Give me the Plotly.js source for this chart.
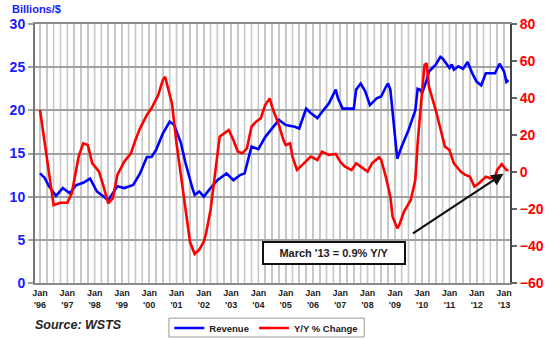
<!DOCTYPE html>
<html><head><meta charset="utf-8">
<script src="https://cdn.plot.ly/plotly-3.0.1.min.js"></script>
<style>html,body{margin:0;padding:0;background:#fff}#chart{width:550px;height:339px}</style>
</head><body><div id="chart"></div>
<script>
// Revenue (Billions $)
const revDates = ['1996-01','1996-03','1996-05','1996-08','1996-11','1997-02','1997-05','1997-08','1997-11','1998-02','1998-06','1998-07','1998-11','1999-02','1999-06','1999-09','1999-12','2000-02','2000-04','2000-07','2000-10','2000-12','2001-03','2001-05','2001-08','2001-09','2001-11','2002-01','2002-04','2002-07','2002-11','2003-02','2003-05','2003-07','2003-10','2004-01','2004-04','2004-07','2004-10','2005-01','2005-05','2005-07','2005-10','2005-12','2006-03','2006-05','2006-08','2006-11','2006-12','2007-02','2007-05','2007-07','2007-08','2007-10','2007-12','2008-02','2008-05','2008-07','2008-09','2008-10','2008-11','2008-12','2009-02','2009-04','2009-07','2009-10','2009-11','2009-12','2010-01','2010-03','2010-04','2010-07','2010-09','2010-10','2011-01','2011-02','2011-03','2011-05','2011-07','2011-09','2011-11','2012-01','2012-03','2012-05','2012-07','2012-09','2012-11','2013-01','2013-02','2013-03'];
const revenue = [12.7,12.2,11.2,10.1,11.0,10.4,11.35,11.6,12.1,10.6,9.8,9.6,11.2,11.0,11.35,12.7,14.6,14.6,15.4,17.3,18.7,18.3,16.2,13.9,11.0,10.2,10.6,10.0,11.0,11.9,12.7,11.9,12.5,12.7,15.8,15.5,16.9,17.9,18.9,18.3,18.1,17.9,20.2,19.7,19.1,19.8,20.8,22.4,21.4,20.2,20.2,20.2,22.4,23.1,22.2,20.6,21.4,21.6,22.7,23.1,22.4,19.7,14.4,15.8,17.7,20.0,22.5,22.4,22.0,23.5,24.5,25.3,26.2,26.0,24.9,25.3,24.7,25.1,24.8,25.6,24.3,23.3,22.9,24.3,24.3,24.3,25.4,24.5,23.3,23.5];

// Y/Y % change
const yoyDates = ['1996-01','1996-04','1996-07','1996-10','1997-01','1997-03','1997-06','1997-08','1997-10','1997-12','1998-03','1998-05','1998-07','1998-09','1998-11','1999-02','1999-05','1999-07','1999-09','1999-12','2000-02','2000-05','2000-07','2000-08','2000-09','2000-11','2001-01','2001-03','2001-05','2001-07','2001-09','2001-11','2002-01','2002-02','2002-04','2002-06','2002-08','2002-10','2002-12','2003-02','2003-04','2003-06','2003-08','2003-10','2003-12','2004-02','2004-04','2004-06','2004-07','2004-10','2004-12','2005-01','2005-03','2005-04','2005-06','2005-09','2005-12','2006-03','2006-05','2006-08','2006-11','2007-01','2007-03','2007-06','2007-08','2007-10','2008-01','2008-03','2008-06','2008-07','2008-09','2008-11','2008-12','2009-02','2009-03','2009-05','2009-08','2009-10','2009-11','2010-01','2010-02','2010-03','2010-04','2010-07','2010-09','2010-11','2011-01','2011-03','2011-06','2011-08','2011-10','2011-12','2012-02','2012-05','2012-07','2012-09','2012-10','2012-12','2013-02','2013-03'];
const yoy = [33.5,9.0,-17.8,-16.6,-16.6,-11.5,8.3,15.5,14.6,4.7,0.2,-7.9,-16.9,-14.2,-1.6,5.6,10.1,17.3,23.6,30.8,34.4,41.6,49.7,51.5,47.0,37.0,15.5,-2.5,-22.3,-38.0,-44.3,-42.0,-37.7,-33.0,-20.5,1.1,19.1,20.9,22.7,17.3,11.0,10.1,12.8,24.5,27.2,29.0,36.2,39.8,35.3,25.4,17.3,14.6,15.5,8.3,1.1,4.7,8.3,6.5,11.0,9.2,9.8,5.5,3.0,1.1,4.7,2.9,0.2,4.7,7.9,6.5,-2.5,-13.4,-24.2,-30.4,-28.6,-21.5,-15.1,-4.3,15.5,44.3,57.8,58.8,46.1,33.5,22.7,13.7,11.9,4.7,0.2,-1.6,-2.5,-7.9,-6.1,-2.5,-3.4,-2.5,1.1,4.3,1.1,0.9];

const yearTicks = ['1996','1997','1998','1999','2000','2001','2002','2003','2004','2005','2006','2007','2008','2009','2010','2011','2012','2013'];
const yearLabels = ["Jan<br>'96","Jan<br>'97","Jan<br>'98","Jan<br>'99","Jan<br>'00","Jan<br>'01","Jan<br>'02","Jan<br>'03","Jan<br>'04","Jan<br>'05","Jan<br>'06","Jan<br>'07","Jan<br>'08","Jan<br>'09","Jan<br>'10","Jan<br>'11","Jan<br>'12","Jan<br>'13"];

// quarterly gridline positions derived from the year ticks; only January carries a label
const qTicks = [], qText = [];
yearTicks.forEach((y, i) => {
  ['01','04','07','10'].forEach((m, j) => {
    if (i === yearTicks.length - 1 && j > 0) return;
    qTicks.push(y + '-' + m + '-01');
    qText.push(j === 0 ? yearLabels[i] : '');
  });
});
const gridShapes = qTicks.map(d => ({type: 'line', xref: 'x', yref: 'paper', x0: d, x1: d, y0: 0, y1: 1,
  layer: 'below', line: {color: '#c8c8c8', width: 1.6}}));
// legend frame
gridShapes.push({type: 'rect', xref: 'paper', yref: 'paper', x0: 0.282, x1: 0.693, y0: -0.1355, y1: -0.2085,
  line: {color: '#999', width: 1}, fillcolor: 'rgba(0,0,0,0)'});

const FONT = 'Liberation Sans, Arial, sans-serif';
const traces = [
  {x: revDates, y: revenue, name: 'Revenue', type: 'scatter', mode: 'lines', yaxis: 'y',
   line: {color: '#0000ff', width: 2.6}},
  {x: yoyDates, y: yoy, name: 'Y/Y % Change', type: 'scatter', mode: 'lines', yaxis: 'y2',
   line: {color: '#ff0000', width: 2.6}}
];
const layout = {
  width: 550, height: 339,
  margin: {l: 35, r: 40, t: 24, b: 56, autoexpand: false},
  paper_bgcolor: '#fff', plot_bgcolor: '#fff',
  font: {family: FONT},
  showlegend: true,
  legend: {orientation: 'h', x: 0.487, y: -0.118, xanchor: 'center', yanchor: 'top',
    bgcolor: 'rgba(0,0,0,0)', borderwidth: 0, font: {size: 9.5, weight: 'bold', color: '#222'},
    itemwidth: 30, tracegroupgap: 0},
  xaxis: {type: 'date', range: ['1995-10-26', '2013-03-21'], automargin: false,
    tickmode: 'array', tickvals: qTicks, ticktext: qText,
    tickfont: {size: 9, weight: 'bold', color: '#222'}, ticks: '',
    showgrid: true, gridcolor: '#c8c8c8', gridwidth: 1.6,
    showline: true, mirror: true, linecolor: '#8a8a8a', linewidth: 2, zeroline: false},
  yaxis: {range: [0, 30], dtick: 5, tick0: 0, showgrid: true, gridcolor: '#a0a0a0', gridwidth: 2,
    ticks: 'outside', ticklen: 5, tickcolor: '#a0a0a0', tickwidth: 2, automargin: false,
    tickfont: {size: 14, weight: 'bold', color: '#1a1aff'},
    showline: true, linecolor: '#777', linewidth: 2, zeroline: false},
  yaxis2: {range: [-60, 80], dtick: 20, tick0: 0, overlaying: 'y', side: 'right', showgrid: false,
    ticks: 'outside', ticklen: 5, tickcolor: '#666', tickwidth: 1.5, automargin: false,
    tickfont: {size: 14, weight: 'bold', color: '#ff0000'},
    showline: true, linecolor: '#444', linewidth: 2, zeroline: false},
  shapes: gridShapes,
  annotations: [
    {xref: 'paper', yref: 'paper', x: -0.053, y: 1.056, xanchor: 'left', yanchor: 'middle',
     text: 'Billions/$', showarrow: false, font: {size: 11, weight: 'bold', color: '#1a1aff'}},
    {xref: 'paper', yref: 'paper', x: -0.004, y: -0.162, xanchor: 'left', yanchor: 'middle',
     text: '<i>Source: WSTS</i>', showarrow: false, font: {size: 12.5, weight: 'bold', color: '#222'}},
    {xref: 'paper', yref: 'paper', x: 0.6305, y: 0.116, xanchor: 'center', yanchor: 'middle',
     text: "March '13 = 0.9% Y/Y", showarrow: false, width: 136, height: 16,
     bgcolor: '#fff', bordercolor: '#111', borderwidth: 2, borderpad: 2,
     font: {size: 11, weight: 'bold', color: '#222'}},
    {x: yoyDates[yoyDates.length-1], y: yoy[yoy.length-1], xref: 'x', yref: 'y2', text: '',
     showarrow: true, arrowhead: 2, arrowsize: 1.1, arrowwidth: 2.2, arrowcolor: '#111',
     ax: -97, ay: 64, standoff: 6}
  ]
};
Plotly.newPlot('chart', traces, layout, {displayModeBar: false, staticPlot: true});
</script></body></html>
